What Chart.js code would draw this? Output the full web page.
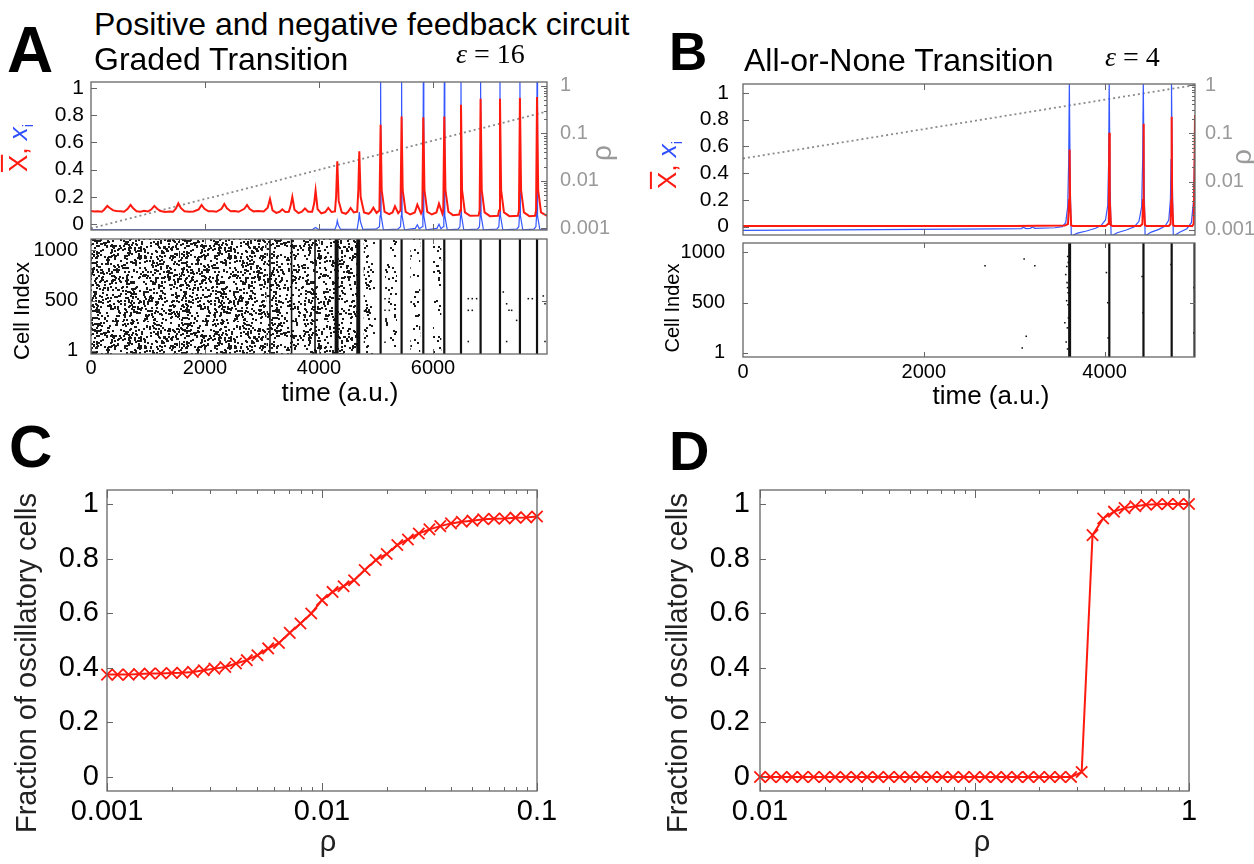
<!DOCTYPE html>
<html>
<head>
<meta charset="utf-8">
<title>Graded and all-or-none transitions</title>
<script src="https://cdn.jsdelivr.net/npm/chart.js@4.4.1/dist/chart.umd.min.js"></script>
<style>
  body { margin:0; background:#fff; }
  #page { position:relative; width:1254px; height:864px; overflow:hidden; font-family:"Liberation Sans", Arial, sans-serif; color:#000; }
  #page canvas { position:absolute; }
  .t { position:absolute; white-space:nowrap; line-height:1; z-index:2; }
  .c { transform:translate(-50%,-50%); }
  .r { transform:translate(-50%,-50%) rotate(-90deg); }
  .big { font-weight:bold; }
  .eps { font-family:"Liberation Serif","Times New Roman",serif; font-size:28px; }
  .red { color:#ff1a10; }
  .blue { color:#2f4fff; }
</style>
</head>
<body>
<div id="page">
  <canvas id="aTop" width="640" height="170" style="left:0;top:70px"></canvas>
  <canvas id="aRaster" width="640" height="152" style="left:0;top:232px"></canvas>
  <canvas id="bTop" width="614" height="175" style="left:640px;top:70px"></canvas>
  <canvas id="bRaster" width="614" height="150" style="left:640px;top:236px"></canvas>
  <canvas id="cFrac" width="620" height="372" style="left:0;top:470px"></canvas>
  <canvas id="dFrac" width="614" height="372" style="left:640px;top:470px"></canvas>

  <div class="t big" style="left:7px;top:18px;font-size:64px">A</div>
  <div class="t" style="left:94px;top:8px;font-size:32px">Positive and negative feedback circuit</div>
  <div class="t" style="left:94px;top:43px;font-size:32px">Graded Transition</div>
  <div class="t eps" style="left:456px;top:40px"><i>&epsilon;</i> = 16</div>

  <div class="t big" style="left:669px;top:25px;font-size:53px">B</div>
  <div class="t" style="left:744px;top:44px;font-size:32px">All-or-None Transition</div>
  <div class="t eps" style="left:1105px;top:43px"><i>&epsilon;</i> = 4</div>

  <div class="t big" style="left:9px;top:417px;font-size:60px">C</div>
  <div class="t big" style="left:669px;top:423px;font-size:56px">D</div>

  <div class="t r" style="left:20px;top:148px;font-size:26px"><span class="red" style="text-decoration:overline">X</span><span class="red">,</span> <span class="blue"><i>x</i><sub style="font-size:15px">i</sub></span></div>
  <div class="t r" style="left:669px;top:165px;font-size:26px"><span class="red" style="text-decoration:overline">X</span><span class="red">,</span> <span class="blue"><i>x</i><sub style="font-size:15px">i</sub></span></div>
  <div class="t r" style="left:602px;top:153px;font-size:28px;color:#999">&rho;</div>
  <div class="t r" style="left:1242px;top:157px;font-size:28px;color:#999">&rho;</div>

  <div class="t r" style="left:22px;top:311px;font-size:22px">Cell Index</div>
  <div class="t r" style="left:672px;top:308px;font-size:20px">Cell Index</div>
  <div class="t c" style="left:340px;top:392px;font-size:26px">time (a.u.)</div>
  <div class="t c" style="left:991px;top:395px;font-size:26px">time (a.u.)</div>

  <div class="t r" style="left:26px;top:663px;font-size:29px;color:#222">Fraction of oscillatory cells</div>
  <div class="t r" style="left:677px;top:663px;font-size:29px;color:#222">Fraction of oscillatory cells</div>
  <div class="t c" style="left:328px;top:841px;font-size:29px;color:#222">&rho;</div>
  <div class="t c" style="left:982px;top:841px;font-size:29px;color:#222">&rho;</div>
</div>
<script>
Chart.defaults.font.family = '"Liberation Sans", Arial, sans-serif';
Chart.defaults.color = '#000';

// ---------- panel A: graded transition (eps = 16) ----------
// [time, value]
const aRed = [[0,0.096],[60,0.092],[120,0.094],[190,0.090],[230,0.105],[286,0.133],[330,0.118],[390,0.100],[450,0.096],[520,0.093],[580,0.090],[640,0.110],[695,0.140],[740,0.115],[800,0.094],[870,0.090],[930,0.097],[1000,0.092],[1060,0.108],[1111,0.133],[1160,0.112],[1220,0.095],[1300,0.089],[1380,0.092],[1440,0.090],[1490,0.115],[1532,0.152],[1575,0.118],[1640,0.094],[1720,0.091],[1800,0.092],[1890,0.108],[1940,0.140],[1990,0.112],[2060,0.094],[2140,0.093],[2200,0.090],[2290,0.112],[2339,0.147],[2385,0.115],[2450,0.094],[2520,0.096],[2590,0.090],[2690,0.112],[2737,0.140],[2785,0.110],[2850,0.093],[2940,0.095],[3030,0.092],[3100,0.120],[3140,0.184],[3185,0.100],[3250,0.082],[3310,0.090],[3356,0.108],[3410,0.088],[3470,0.090],[3500,0.130],[3532,0.200],[3570,0.105],[3640,0.080],[3700,0.090],[3754,0.115],[3810,0.090],[3880,0.090],[3915,0.150],[3940,0.246],[3975,0.110],[4040,0.078],[4110,0.088],[4163,0.118],[4220,0.088],[4280,0.092],[4300,0.200],[4321,0.461],[4345,0.170],[4400,0.085],[4470,0.075],[4510,0.090],[4554,0.118],[4610,0.085],[4670,0.090],[4690,0.250],[4707,0.534],[4730,0.200],[4790,0.085],[4870,0.075],[4910,0.090],[4953,0.120],[5010,0.082],[5060,0.100],[5081,0.730],[5100,0.250],[5150,0.090],[5230,0.072],[5290,0.085],[5333,0.130],[5390,0.080],[5430,0.100],[5449,0.790],[5468,0.250],[5520,0.090],[5600,0.070],[5680,0.085],[5725,0.142],[5790,0.078],[5812,0.100],[5830,0.784],[5850,0.250],[5900,0.090],[5980,0.070],[6060,0.085],[6105,0.150],[6165,0.075],[6180,0.100],[6198,0.790],[6218,0.250],[6270,0.090],[6350,0.065],[6460,0.070],[6475,0.100],[6491,0.877],[6510,0.250],[6560,0.085],[6650,0.060],[6800,0.062],[6818,0.100],[6835,0.920],[6855,0.250],[6905,0.085],[7000,0.058],[7140,0.060],[7158,0.100],[7175,0.920],[7195,0.250],[7245,0.085],[7340,0.058],[7490,0.060],[7508,0.100],[7525,0.926],[7545,0.250],[7595,0.085],[7690,0.058],[7790,0.060],[7808,0.100],[7825,0.934],[7845,0.250],[7895,0.085],[8000,0.060]];
const aBlue = [[0,-0.042],[3880,-0.042],[3940,-0.025],[3990,-0.040],[4280,-0.040],[4310,-0.005],[4321,0.025],[4340,-0.010],[4380,-0.040],[4670,-0.038],[4695,0.030],[4707,0.088],[4725,0.020],[4770,-0.040],[5000,-0.038],[5060,-0.020],[5072,0.060],[5081,1.080],[5090,0.060],[5130,-0.042],[5380,-0.038],[5430,-0.020],[5441,0.060],[5449,1.080],[5458,0.060],[5500,-0.042],[5690,-0.032],[5725,-0.005],[5760,-0.035],[5810,-0.020],[5822,0.060],[5830,1.080],[5839,0.060],[5880,-0.042],[6070,-0.032],[6105,-0.002],[6140,-0.035],[6178,-0.020],[6190,0.060],[6198,1.080],[6207,0.060],[6250,-0.042],[6440,-0.038],[6472,-0.020],[6483,0.060],[6491,1.080],[6500,0.060],[6540,-0.042],[6780,-0.038],[6815,-0.020],[6827,0.060],[6835,1.080],[6844,0.060],[6885,-0.042],[7120,-0.038],[7155,-0.020],[7167,0.060],[7175,1.080],[7184,0.060],[7225,-0.042],[7470,-0.038],[7505,-0.020],[7517,0.060],[7525,1.080],[7534,0.060],[7575,-0.042],[7770,-0.038],[7805,-0.020],[7817,0.060],[7825,1.080],[7834,0.060],[7875,-0.042],[8000,-0.042]];
const aRho = [[0,0.001],[8000,0.29]];
// raster: synchronous firing times, speckled bands [from, to], isolated spikes [time, cell]
const aSyncFaint = [3140, 3519, 3930];
const aSyncBold = [4309, 4689];
const aSync = [5081, 5449, 5830, 6198, 6491, 6835, 7175, 7525, 7825];
const aBandDense = [[0, 3080]];
const aBandMid = [[3080, 4290], [4330, 4670]];
const aBandSparse = [[4780, 5000], [5160, 5370], [5600, 5780], [6000, 6150]];
const aDots = [[5158,521],[5233,521],[5158,405],[5233,405],[5158,88],[6619,521],[6689,521],[6765,521],[6619,405],[6689,405],[6619,95],[7233,587],[7292,470],[7333,405],[7380,405],[7467,305],[7292,95],[7672,521],[7742,521],[7935,548],[7965,470],[7965,95]];

// ---------- panel B: all-or-none transition (eps = 4) ----------
const bRed = [[0,0.006],[3000,0.006],[3560,0.008],[3595,0.020],[3607,0.200],[3613,0.577],[3618,0.200],[3630,0.010],[3650,0.005],[4010,0.005],[4038,0.020],[4047,0.200],[4052,0.701],[4057,0.200],[4070,0.010],[4090,0.005],[4395,0.005],[4418,0.020],[4425,0.200],[4430,0.769],[4435,0.200],[4447,0.010],[4465,0.005],[4710,0.005],[4730,0.020],[4737,0.200],[4742,0.821],[4747,0.200],[4759,0.010],[4775,0.005],[4970,0.005],[4985,0.020],[4994,0.400],[5000,0.834]];
const bBlue = [[0,-0.028],[1500,-0.022],[2800,-0.016],[3080,-0.014],[3100,-0.004],[3130,-0.014],[3180,-0.012],[3200,-0.002],[3230,-0.012],[3450,-0.008],[3530,0.000],[3570,0.030],[3592,0.150],[3603,0.500],[3610,1.080],[3620,0.300],[3632,-0.070],[3700,-0.048],[3800,-0.032],[3900,-0.012],[3960,0.008],[4010,0.050],[4035,0.160],[4045,0.500],[4051,1.080],[4061,0.300],[4072,-0.070],[4140,-0.045],[4240,-0.025],[4330,0.000],[4380,0.040],[4410,0.150],[4421,0.500],[4428,1.080],[4438,0.300],[4448,-0.070],[4510,-0.042],[4600,-0.020],[4670,0.005],[4710,0.050],[4728,0.200],[4735,0.500],[4740,1.080],[4750,0.300],[4760,-0.070],[4830,-0.042],[4910,-0.015],[4960,0.030],[4985,0.200],[5000,0.700]];
const bRho = [[0,0.03],[5000,1]];
const bSyncBold = [3613];
const bSync = [4052, 4430, 4742, 4995];
const bDots = [[2677,867],[3110,934],[3228,867],[3133,166],[3089,50],[3570,780],[3585,700],[3590,650],[3580,520],[3595,480],[3560,300],[3588,250],[3575,110],[3590,40],[3598,900],[3592,960],[3582,860],[3596,600],[3600,350],[4020,800],[4035,500],[4040,150],[4415,760],[4425,400],[4735,880],[4990,650],[4990,200]];

// ---------- panels C, D: fraction of oscillatory cells vs rho ----------
const cRho = [0.001,0.00112,0.00126,0.00141,0.00158,0.00178,0.002,0.00224,0.00251,0.00282,0.00316,0.00355,0.00398,0.00447,0.00501,0.00562,0.00631,0.00708,0.00794,0.00891,0.01,0.0112,0.0126,0.0141,0.0158,0.0178,0.02,0.0224,0.0251,0.0282,0.0316,0.0355,0.0398,0.0447,0.0501,0.0562,0.0631,0.0708,0.0794,0.0891,0.1];
const cFrac = [0.375,0.375,0.375,0.377,0.379,0.379,0.381,0.382,0.385,0.391,0.397,0.403,0.416,0.428,0.446,0.471,0.491,0.528,0.562,0.599,0.648,0.678,0.699,0.721,0.758,0.795,0.817,0.85,0.87,0.892,0.907,0.919,0.929,0.935,0.939,0.944,0.946,0.947,0.95,0.951,0.954];
const dRho = [0.01,0.0112,0.0126,0.0141,0.0158,0.0178,0.02,0.0224,0.0251,0.0282,0.0316,0.0355,0.0398,0.0447,0.0501,0.0562,0.0631,0.0708,0.0794,0.0891,0.1,0.112,0.126,0.141,0.158,0.178,0.2,0.224,0.251,0.282,0.316,0.355,0.398,0.447,0.501,0.562,0.631,0.708,0.794,0.891,1];
const dFrac = [0,0,0,0,0,0,0,0,0,0,0,0,0,0,0,0,0,0,0,0,0,0,0,0,0,0,0,0,0,0,0.018,0.886,0.947,0.972,0.985,0.992,0.997,0.999,1,1,1];

// tick labels
const timeTicksA = [0, 2000, 4000, 6000];
const timeTicksB = [0, 2000, 4000];
const fracTicks = [0, 0.2, 0.4, 0.6, 0.8, 1];
const rhoTicks = [0.001, 0.01, 0.1, 1];
const cellTicks = [1, 500, 1000];
const cRhoTicks = [0.001, 0.01, 0.1];
const dRhoTicks = [0.01, 0.1, 1];

const RED = '#ff1a10', BLUE = '#3557ff', GREY = '#8a8a8a';

// gnuplot-like frame with inward tick marks
const frameTicks = {
  id: 'frameTicks',
  afterDatasetsDraw(chart, args, o) {
    const ctx = chart.ctx, a = chart.chartArea;
    ctx.save();
    ctx.strokeStyle = '#666';
    ctx.lineWidth = 1.3;
    ctx.strokeRect(a.left, a.top, a.right - a.left, a.bottom - a.top);
    ctx.lineWidth = 1;
    (o.marks || []).forEach(m => {
      const s = chart.scales[m.axis];
      m.at.forEach(v => {
        const p = Math.round(s.getPixelForValue(v)) + 0.5;
        ctx.beginPath();
        m.sides.forEach(side => {
          if (side == 'bottom') { ctx.moveTo(p, a.bottom); ctx.lineTo(p, a.bottom - m.len); }
          if (side == 'top') { ctx.moveTo(p, a.top); ctx.lineTo(p, a.top + m.len); }
          if (side == 'left') { ctx.moveTo(a.left, p); ctx.lineTo(a.left + m.len, p); }
          if (side == 'right') { ctx.moveTo(a.right, p); ctx.lineTo(a.right - m.len, p); }
        });
        ctx.stroke();
      });
    });
    ctx.restore();
  }
};
Chart.register(frameTicks);

function logMinor(lo, hi) {
  var out = [];
  for (var e = Math.floor(Math.log10(lo)); e < Math.ceil(Math.log10(hi)); e++) {
    for (var k = 2; k <= 9; k++) {
      var v = k * Math.pow(10, e);
      if (v > lo && v < hi) out.push(v);
    }
  }
  return out;
}

// axis with fixed box size so that the plot frame lands where it should
function axis(o) {
  return {
    type: o.type || 'linear', position: o.pos, min: o.min, max: o.max,
    grid: { display: false, drawTicks: false }, border: { display: false },
    afterBuildTicks: s => { s.ticks = (o.ticks || []).map(v => ({ value: v })); },
    ticks: { display: !!o.ticks, autoSkip: false, maxRotation: 0, minRotation: 0, padding: o.pad || 0,
             color: o.color || '#000', font: { size: o.size || 20 }, callback: v => String(v) },
    afterFit: s => {
      if (s.isHorizontal()) s.height = o.box; else s.width = o.box;
      s.paddingTop = 0; s.paddingBottom = 0; s.paddingLeft = 0; s.paddingRight = 0;
    }
  };
}

function options(pad, scales, marks) {
  return {
    responsive: false, animation: false, events: [],
    layout: { padding: pad, autoPadding: false },
    plugins: { legend: { display: false }, tooltip: { enabled: false }, frameTicks: { marks: marks } },
    scales: scales
  };
}

function series(pairs, color, width, yAxis, dash) {
  return { data: pairs.map(p => ({ x: p[0], y: p[1] })), borderColor: color, borderWidth: width,
           pointRadius: 0, fill: false, tension: 0, yAxisID: yAxis || 'y', borderDash: dash || [] };
}

// dot texture used to fill the asynchronous-firing regions of the raster
function speckle(count) {
  var n = 90;
  var tile = document.createElement('canvas');
  tile.width = n; tile.height = n;
  var g = tile.getContext('2d');
  g.fillStyle = '#1a1a1a';
  for (var i = 1; i <= count; i++) {
    var u = (i * 0.7548776662 + 0.5 * ((i * i * 0.0618034) % 1)) % 1;
    var v = (i * 0.5698402910 + 0.5 * ((i * i * 0.0414214) % 1)) % 1;
    g.fillRect(Math.floor(u * n), Math.floor(v * n), 2, 2);
  }
  return g.createPattern(tile, 'repeat');
}

function syncLines(times, lo, hi, width) {
  var d = [];
  times.forEach(t => { d.push({ x: t, y: lo }, { x: t, y: hi }, { x: t, y: null }); });
  return { data: d, borderColor: '#111', borderWidth: width, pointRadius: 0, spanGaps: false, fill: false };
}

function bands(list, lo, hi, pattern) {
  return list.map(b => ({ data: [{ x: b[0], y: hi }, { x: b[1], y: hi }], borderWidth: 0, pointRadius: 0,
                          fill: 'start', backgroundColor: pattern }));
}

function dots(list) {
  return { type: 'scatter', data: list.map(p => ({ x: p[0], y: p[1] })), pointStyle: 'rect', pointRadius: 1.1,
           backgroundColor: '#111', borderWidth: 0 };
}

// ---------- A, top ----------
new Chart(document.getElementById('aTop'), {
  type: 'line',
  data: { datasets: [
    series(aRed, RED, 2),
    series(aBlue, BLUE, 1.2),
    series(aRho, GREY, 1.8, 'y1', [2, 3])
  ] },
  options: options({ top: 12, bottom: 10, left: 0, right: 0 }, {
    x: axis({ min: 0, max: 8000, pos: 'bottom', box: 0 }),
    y: axis({ min: -0.044, max: 1.044, pos: 'left', ticks: fracTicks, size: 21, pad: 7, box: 91 }),
    y1: axis({ type: 'logarithmic', min: 0.00092, max: 1.21, pos: 'right', ticks: rhoTicks, size: 20, pad: 13, color: '#999', box: 93 })
  }, [
    { axis: 'x', at: [2000, 4000, 6000], len: 6, sides: ['top', 'bottom'] },
    { axis: 'y', at: fracTicks, len: 6, sides: ['left'] },
    { axis: 'y1', at: rhoTicks, len: 6, sides: ['right'] },
    { axis: 'y1', at: logMinor(0.001, 1), len: 3, sides: ['right'] }
  ])
});

// ---------- A, raster ----------
const aLo = -29, aHi = 1114;
new Chart(document.getElementById('aRaster'), {
  type: 'line',
  data: { datasets: [
    syncLines(aSyncFaint, aLo, aHi, 1.6),
    syncLines(aSyncBold, aLo, aHi, 4),
    syncLines(aSync, aLo, aHi, 2.2),
    dots(aDots)
  ].concat(bands(aBandDense, aLo, aHi, speckle(820)), bands(aBandMid, aLo, aHi, speckle(600)), bands(aBandSparse, aLo, aHi, speckle(280))) },
  options: options({ top: 7, bottom: 0, left: 0, right: 93 }, {
    x: axis({ min: 0, max: 8000, pos: 'bottom', ticks: timeTicksA, size: 20, pad: 2, box: 30 }),
    y: axis({ min: aLo, max: aHi, pos: 'left', ticks: cellTicks, size: 20, pad: 13, box: 91 })
  }, [
    { axis: 'x', at: [2000, 4000, 6000], len: 5, sides: ['top', 'bottom'] },
    { axis: 'y', at: cellTicks, len: 5, sides: ['left'] },
    { axis: 'y', at: [500], len: 5, sides: ['right'] }
  ])
});

// ---------- B, top ----------
new Chart(document.getElementById('bTop'), {
  type: 'line',
  data: { datasets: [
    series(bRed, RED, 2),
    series(bBlue, BLUE, 1.2),
    series(bRho, GREY, 1.8, 'y1', [2, 3])
  ] },
  options: options({ top: 14, bottom: 10, left: 0, right: 0 }, {
    x: axis({ min: 0, max: 5000, pos: 'bottom', box: 0 }),
    y: axis({ min: -0.062, max: 1.065, pos: 'left', ticks: fracTicks, size: 21, pad: 14, box: 103 }),
    y1: axis({ type: 'logarithmic', min: 0.00078, max: 1.05, pos: 'right', ticks: rhoTicks, size: 20, pad: 10, color: '#999', box: 59 })
  }, [
    { axis: 'x', at: [2000, 4000], len: 6, sides: ['top', 'bottom'] },
    { axis: 'y', at: fracTicks, len: 6, sides: ['left'] },
    { axis: 'y1', at: rhoTicks, len: 6, sides: ['right'] },
    { axis: 'y1', at: logMinor(0.001, 1), len: 3, sides: ['right'] }
  ])
});

// ---------- B, raster ----------
const bLo = -40, bHi = 1094;
new Chart(document.getElementById('bRaster'), {
  type: 'line',
  data: { datasets: [
    syncLines(bSyncBold, bLo, bHi, 3),
    syncLines(bSync, bLo, bHi, 2.2),
    dots(bDots)
  ] },
  options: options({ top: 7, bottom: 0, left: 0, right: 59 }, {
    x: axis({ min: 0, max: 5000, pos: 'bottom', ticks: timeTicksB, size: 20, pad: 3, box: 29 }),
    y: axis({ min: bLo, max: bHi, pos: 'left', ticks: cellTicks, size: 20, pad: 18, box: 103 })
  }, [
    { axis: 'x', at: [2000, 4000], len: 5, sides: ['top', 'bottom'] },
    { axis: 'y', at: cellTicks, len: 5, sides: ['left'] },
    { axis: 'y', at: [500], len: 5, sides: ['right'] }
  ])
});

// ---------- C and D ----------
function fracChart(id, rho, frac, rhoTicksList, lo, hi, leftBox, leftPad, rightPad) {
  new Chart(document.getElementById(id), {
    type: 'line',
    data: { datasets: [{
      data: rho.map((r, i) => ({ x: r, y: frac[i] })),
      borderColor: RED, borderWidth: 2, tension: 0, fill: false, clip: false,
      pointStyle: 'crossRot', pointRadius: 8, pointBorderColor: RED, pointBorderWidth: 1.8, pointBackgroundColor: RED
    }] },
    options: options({ top: 20, bottom: 0, left: 0, right: rightPad }, {
      x: axis({ type: 'logarithmic', min: lo, max: hi, pos: 'bottom', ticks: rhoTicksList, size: 29, pad: 4, box: 51 }),
      y: axis({ min: -0.0513, max: 1.0513, pos: 'left', ticks: fracTicks, size: 29, pad: leftPad, box: leftBox })
    }, [
      { axis: 'x', at: rhoTicksList, len: 8, sides: ['top', 'bottom'] },
      { axis: 'x', at: logMinor(lo, hi), len: 4, sides: ['top', 'bottom'] },
      { axis: 'y', at: fracTicks, len: 6, sides: ['left'] }
    ])
  });
}
fracChart('cFrac', cRho, cFrac, cRhoTicks, 0.001, 0.1, 107, 8, 83);
fracChart('dFrac', dRho, dFrac, dRhoTicks, 0.01, 1, 120, 10, 65);
</script>
</body>
</html>
